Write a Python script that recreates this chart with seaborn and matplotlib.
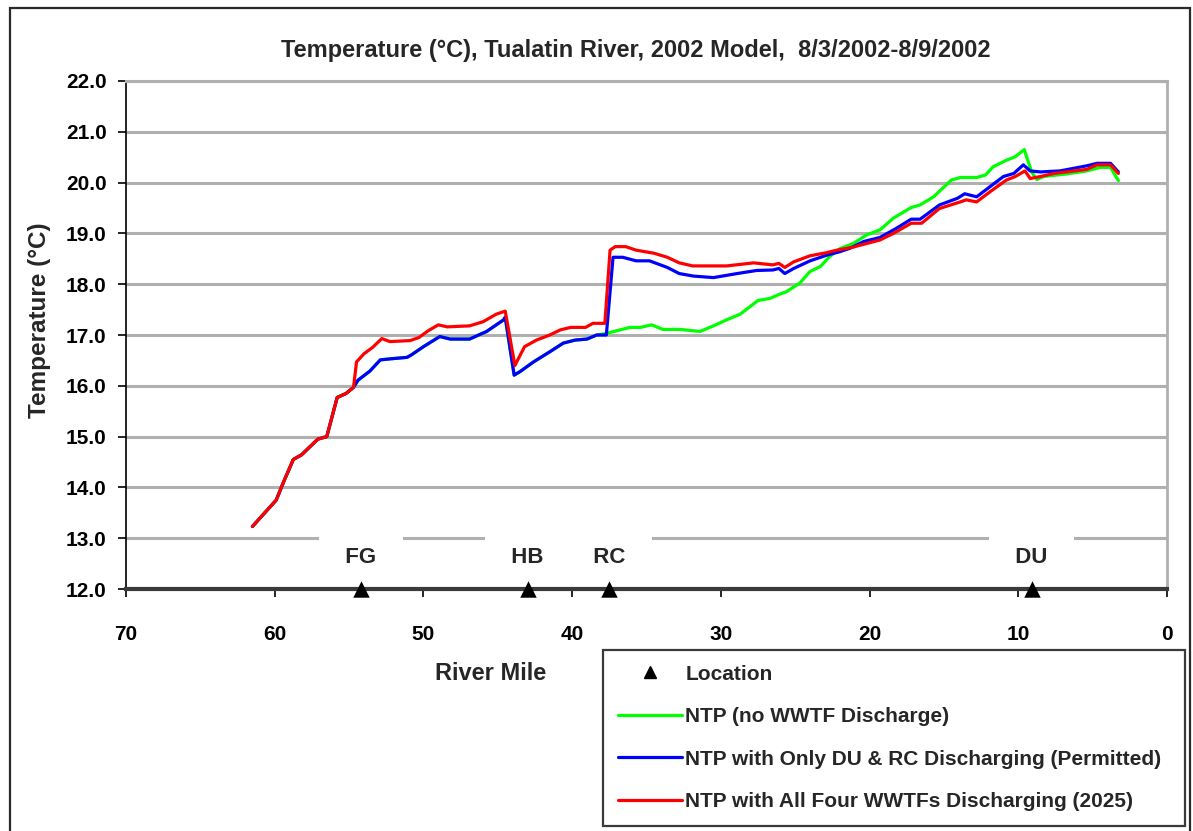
import numpy as np
import pandas as pd
import matplotlib
matplotlib.use("Agg")
import matplotlib.pyplot as plt
import seaborn as sns
from matplotlib.lines import Line2D
from matplotlib.patches import Rectangle

# ---------------- data ----------------
title = "Temperature (°C), Tualatin River, 2002 Model,  8/3/2002-8/9/2002"
series_names = [
    "NTP (no WWTF Discharge)",
    "NTP with Only DU & RC Discharging (Permitted)",
    "NTP with All Four WWTFs Discharging (2025)",
]
series_colors = ["#00ff00", "#0000ff", "#ff0000"]

green_miles = [61.5, 59.9, 59.4, 58.75, 58.2, 57.1, 56.5, 55.8, 55.2, 54.7,
               54.4, 53.6, 52.9, 52.25, 51.1, 50.8, 50.0, 48.9, 48.2, 46.9,
               45.75, 45.3, 44.6, 44.5, 43.9, 43.5, 42.6, 41.5, 40.6, 39.8,
               39.0, 38.35, 37.7, 36.8, 36.1, 35.4, 34.65, 33.9, 32.75, 31.4,
               30.5, 29.6, 28.7, 27.5, 26.7, 26.0, 25.6, 24.7, 24.0, 23.3,
               22.7, 22.0, 21.1, 20.2, 19.3, 18.4, 17.2, 16.6, 15.7, 14.5,
               13.9, 12.8, 12.2, 11.7, 10.8, 10.2, 9.6, 9.1, 8.75, 8.3,
               6.75, 5.4, 4.5, 3.8, 3.27]
green_temps = [13.23, 13.75, 14.11, 14.55, 14.64, 14.95, 15.00, 15.77, 15.85, 15.97,
               16.11, 16.29, 16.51, 16.53, 16.56, 16.61, 16.77, 16.97, 16.92, 16.92,
               17.07, 17.16, 17.30, 17.35, 16.21, 16.28, 16.47, 16.67, 16.84, 16.90,
               16.92, 17.00, 17.03, 17.10, 17.15, 17.15, 17.20, 17.11, 17.11, 17.07,
               17.18, 17.30, 17.41, 17.68, 17.72, 17.81, 17.85, 18.02, 18.25, 18.35,
               18.54, 18.70, 18.80, 18.97, 19.07, 19.30, 19.51, 19.56, 19.72, 20.05,
               20.10, 20.10, 20.15, 20.31, 20.44, 20.51, 20.65, 20.21, 20.06, 20.12,
               20.17, 20.23, 20.30, 20.30, 20.04]

blue_miles = [61.5, 59.9, 59.4, 58.75, 58.2, 57.1, 56.5, 55.8, 55.2, 54.7,
              54.4, 53.6, 52.9, 52.25, 51.1, 50.8, 50.0, 48.9, 48.2, 46.9,
              45.75, 45.3, 44.6, 44.5, 43.9, 43.5, 42.6, 41.5, 40.6, 39.8,
              39.0, 38.35, 37.7, 37.25, 36.6, 35.7, 34.8, 33.6, 32.8, 31.85,
              30.5, 28.9, 27.6, 26.5, 26.1, 25.7, 25.1, 24.0, 22.9, 22.0,
              21.3, 20.4, 19.3, 18.2, 17.2, 16.6, 15.3, 14.1, 13.6, 12.8,
              11.9, 11.0, 10.3, 9.66, 9.2, 8.5, 7.2, 5.4, 4.7, 3.8, 3.27]
blue_temps = [13.23, 13.75, 14.11, 14.55, 14.64, 14.95, 15.00, 15.77, 15.85, 15.97,
              16.11, 16.29, 16.51, 16.53, 16.56, 16.61, 16.77, 16.97, 16.92, 16.92,
              17.07, 17.16, 17.30, 17.35, 16.21, 16.28, 16.47, 16.67, 16.84, 16.90,
              16.92, 17.00, 17.00, 18.53, 18.53, 18.46, 18.46, 18.33, 18.21, 18.16,
              18.13, 18.21, 18.27, 18.28, 18.31, 18.21, 18.31, 18.46, 18.57, 18.64,
              18.71, 18.84, 18.92, 19.10, 19.28, 19.28, 19.56, 19.69, 19.78, 19.72,
              19.92, 20.12, 20.18, 20.35, 20.23, 20.21, 20.23, 20.33, 20.38, 20.38, 20.21]

red_miles = [61.5, 59.9, 59.4, 58.75, 58.2, 57.1, 56.5, 55.8, 55.2, 54.7,
             54.5, 54.0, 53.4, 52.8, 52.25, 50.9, 50.3, 49.7, 49.0, 48.4,
             46.9, 46.0, 45.1, 44.5, 43.85, 43.2, 42.4, 41.5, 40.8, 40.1,
             39.1, 38.6, 37.8, 37.45, 37.1, 36.4, 35.7, 34.5, 33.6, 32.8,
             31.9, 29.6, 27.8, 26.5, 26.1, 25.7, 25.1, 24.0, 22.9, 22.2,
             21.1, 20.6, 19.3, 18.4, 17.2, 16.5, 15.3, 13.9, 13.5, 12.8,
             11.9, 10.8, 10.2, 9.55, 9.2, 8.5, 7.6, 5.4, 4.7, 3.8, 3.27]
red_temps = [13.23, 13.75, 14.11, 14.55, 14.64, 14.95, 15.00, 15.77, 15.85, 15.97,
             16.47, 16.63, 16.76, 16.93, 16.87, 16.89, 16.95, 17.08, 17.20, 17.16,
             17.18, 17.26, 17.41, 17.47, 16.40, 16.77, 16.90, 17.00, 17.10, 17.15,
             17.15, 17.23, 17.23, 18.67, 18.74, 18.74, 18.67, 18.61, 18.53, 18.42,
             18.36, 18.36, 18.42, 18.38, 18.41, 18.33, 18.44, 18.56, 18.62, 18.67,
             18.73, 18.77, 18.87, 19.00, 19.20, 19.20, 19.49, 19.62, 19.66, 19.62,
             19.82, 20.05, 20.12, 20.23, 20.08, 20.12, 20.18, 20.26, 20.35, 20.35, 20.18]

location_names = ["FG", "HB", "RC", "DU"]
location_miles = [54.2, 43.0, 37.5, 9.1]
location_level = 12.0
location_label_level = 12.62

x_ticks = [70, 60, 50, 40, 30, 20, 10, 0]
y_ticks = [12.0, 13.0, 14.0, 15.0, 16.0, 17.0, 18.0, 19.0, 20.0, 21.0, 22.0]

# ---------------- style ----------------
sns.set_theme(style="white")
FONT = ["Liberation Sans", "DejaVu Sans"]
plt.rcParams["font.family"] = FONT
plt.rcParams["font.weight"] = "bold"

fig = plt.figure(figsize=(11.93, 8.31), dpi=100)
fig.patch.set_facecolor("white")
W, H = 1193.0, 831.0
ax = fig.add_axes([126 / W, 1 - 589 / H, (1167 - 126) / W, (589 - 81) / H])
ax.set_facecolor("white")

frames = []
for name, m, t in [(series_names[0], green_miles, green_temps),
                   (series_names[1], blue_miles, blue_temps),
                   (series_names[2], red_miles, red_temps)]:
    frames.append(pd.DataFrame({"mile": m, "temp": t, "scenario": name}))
df = pd.concat(frames, ignore_index=True)

LW = 2.3
sns.lineplot(data=df, x="mile", y="temp", hue="scenario", hue_order=series_names,
             palette=series_colors, sort=False, estimator=None, linewidth=LW,
             legend=False, ax=ax, zorder=3)

sns.scatterplot(x=location_miles, y=[location_level] * len(location_miles),
                marker="^", color="black", s=140, edgecolor="black", linewidth=0,
                zorder=6, clip_on=False, legend=False, ax=ax)
for m, lab in zip(location_miles, location_names):
    ax.text(m, location_label_level, "  " + lab + "  ", ha="center", va="center",
            fontsize=16, fontweight="bold", zorder=1.5,
            bbox=dict(boxstyle="square,pad=0.65", fc="white", ec="none"))

ax.set_xlim(70, 0)
ax.set_ylim(12.0, 22.0)
ax.set_xticks(x_ticks)
ax.set_xticklabels([str(v) for v in x_ticks])
ax.set_yticks(y_ticks)
ax.set_yticklabels([f"{v:.1f}" for v in y_ticks])
ax.set_xlabel("")
ax.set_ylabel("")
ax.set_axisbelow(True)
ax.yaxis.grid(True, color="#b0b0b0", linewidth=2.2)
ax.xaxis.grid(False)
ax.tick_params(axis="both", which="major", direction="out", length=6, width=1.2,
               color="black", labelsize=15, bottom=True, left=True)
ax.tick_params(axis="x", pad=20)
ax.tick_params(axis="y", pad=8)
for lbl in ax.get_xticklabels() + ax.get_yticklabels():
    lbl.set_fontweight("bold")
    lbl.set_color("black")

ax.spines["left"].set_color("black")
ax.spines["left"].set_linewidth(1.2)
ax.spines["bottom"].set_color("#3a3a3a")
ax.spines["bottom"].set_linewidth(3.0)
ax.spines["top"].set_color("#b0b0b0")
ax.spines["top"].set_linewidth(2.2)
ax.spines["right"].set_color("#b0b0b0")
ax.spines["right"].set_linewidth(2.0)

fig.text(636 / W, 1 - 50 / H, title, ha="center", va="center", fontsize=17,
         fontweight="bold")
fig.text(40 / W, 1 - 320 / H, "Temperature (°C)", rotation=90, ha="center",
         va="center", fontsize=17.5, fontweight="bold")
fig.text(491 / W, 1 - 674 / H, "River Mile", ha="center", va="center",
         fontsize=17, fontweight="bold")

handles = [Line2D([], [], marker="^", color="black", linestyle="none", markersize=8)]
handles += [Line2D([], [], color=c, linewidth=LW) for c in series_colors]
labels = ["Location"] + series_names
leg = fig.legend(handles, labels, loc="upper left",
                 bbox_to_anchor=(603 / W, 1 - 650 / H, (1185 - 603) / W, 0),
                 mode="expand", borderaxespad=0, frameon=True, fancybox=False,
                 handlelength=3.1, handletextpad=0.15, labelspacing=1.13,
                 borderpad=0.7, prop={"weight": "bold", "size": 15, "family": FONT})
leg.get_frame().set_edgecolor("#3a3a3a")
leg.get_frame().set_linewidth(1.6)
leg.get_frame().set_alpha(1)

border = Rectangle((10 / W, -0.05), (1190 - 10) / W, (1 - 8 / H) + 0.05,
                   transform=fig.transFigure, fill=False, edgecolor="#2a2a2a",
                   linewidth=1.6, clip_on=False)
fig.patches.append(border)

fig.savefig("out.png", dpi=100, facecolor="white")
